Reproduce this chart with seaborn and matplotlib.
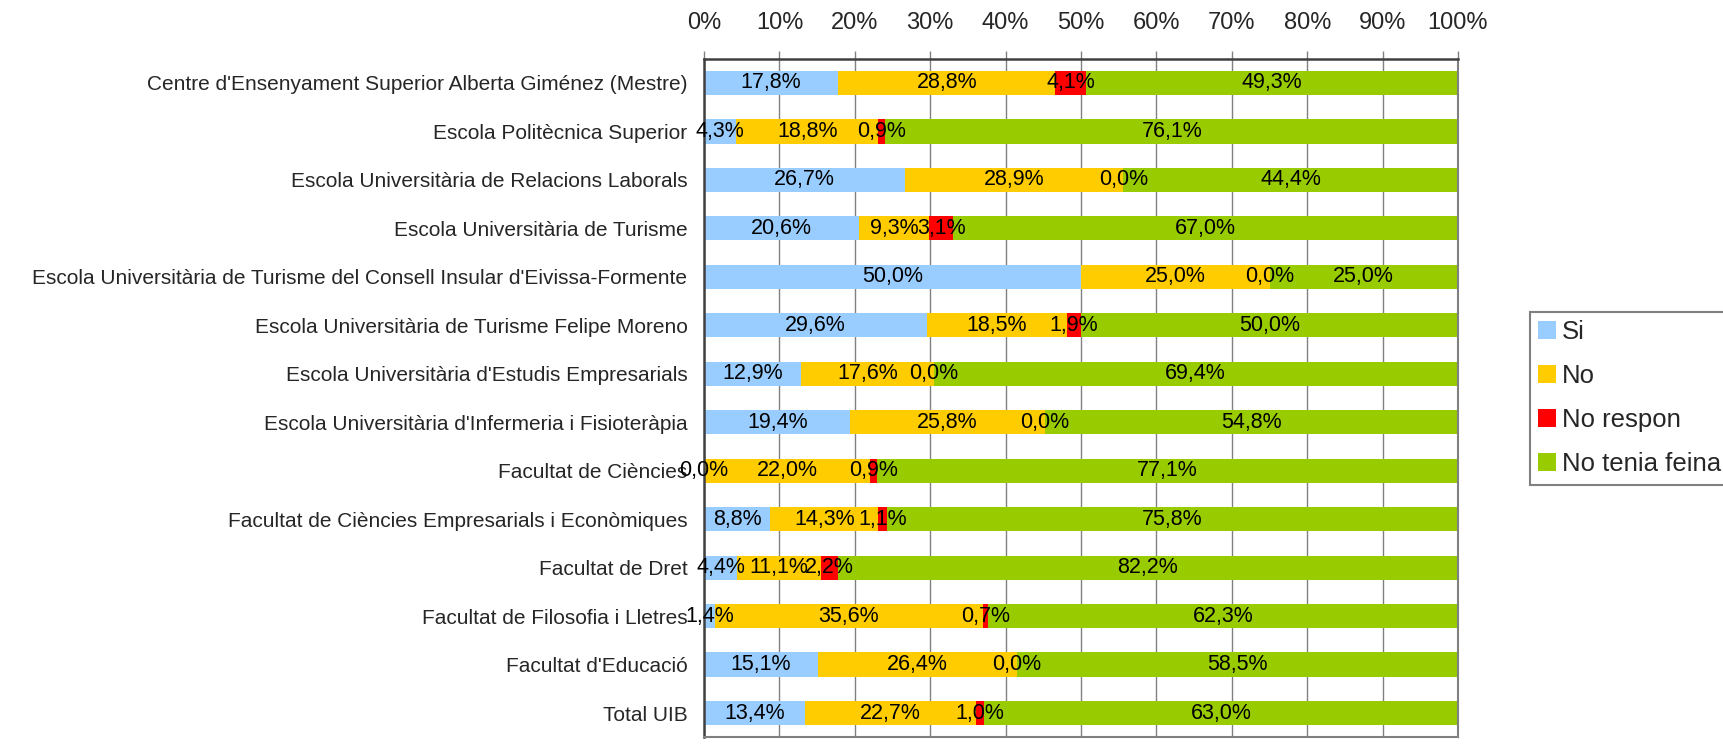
import numpy as np
import pandas as pd
import seaborn as sns
import matplotlib.pyplot as plt
from matplotlib.patches import Patch
from matplotlib.ticker import FixedLocator

# Data
centres = [
    "Centre d'Ensenyament Superior Alberta Giménez (Mestre)",
    "Escola Politècnica Superior",
    "Escola Universitària de Relacions Laborals",
    "Escola Universitària de Turisme",
    "Escola Universitària de Turisme del Consell Insular d'Eivissa-Formente",
    "Escola Universitària de Turisme Felipe Moreno",
    "Escola Universitària d'Estudis Empresarials",
    "Escola Universitària d'Infermeria i Fisioteràpia",
    "Facultat de Ciències",
    "Facultat de Ciències Empresarials i Econòmiques",
    "Facultat de Dret",
    "Facultat de Filosofia i Lletres",
    "Facultat d'Educació",
    "Total UIB",
]
si = [17.8, 4.3, 26.7, 20.6, 50.0, 29.6, 12.9, 19.4, 0.0, 8.8, 4.4, 1.4, 15.1, 13.4]
no = [28.8, 18.8, 28.9, 9.3, 25.0, 18.5, 17.6, 25.8, 22.0, 14.3, 11.1, 35.6, 26.4, 22.7]
no_respon = [4.1, 0.9, 0.0, 3.1, 0.0, 1.9, 0.0, 0.0, 0.9, 1.1, 2.2, 0.7, 0.0, 1.0]
no_feina = [49.3, 76.1, 44.4, 67.0, 25.0, 50.0, 69.4, 54.8, 77.1, 75.8, 82.2, 62.3, 58.5, 63.0]

series = ["Si", "No", "No respon", "No tenia feina"]
colors = ["#99CCFF", "#FFCC00", "#FF0000", "#99CC00"]
xticks = [0, 10, 20, 30, 40, 50, 60, 70, 80, 90, 100]

df = pd.DataFrame({"centre": centres, "Si": si, "No": no,
                   "No respon": no_respon, "No tenia feina": no_feina})
cum = df[series].cumsum(axis=1)
starts = cum - df[series]

sns.set_style("white")
plt.rcParams["font.family"] = ["Liberation Sans", "DejaVu Sans"]

fig = plt.figure(figsize=(17.24, 7.51), dpi=100)
ax = fig.add_axes([0.4084, 0.0183, 0.8457 - 0.4084, 0.9218 - 0.0183])

# stacked bars: draw cumulative totals from back to front
for s, c in reversed(list(zip(series, colors))):
    sns.barplot(x=cum[s], y=df["centre"], color=c, orient="h", width=0.5,
                saturation=1, linewidth=0, ax=ax)

# data labels centred in each segment
for s in series:
    for i in range(len(df)):
        v = df[s].iloc[i]
        ax.text(starts[s].iloc[i] + v / 2, i, f"{v:.1f}%".replace(".", ","),
                ha="center", va="center", fontsize=15.5, color="black")

ax.set_xlim(0, 100)
ax.set_ylim(len(df) - 0.5, -0.5)
ax.set_xlabel("")
ax.set_ylabel("")

ax.xaxis.tick_top()
ax.set_xticks(xticks)
ax.set_xticklabels([f"{t}%" for t in xticks], fontsize=17)
ax.tick_params(axis="x", which="major", direction="out", length=6,
               width=1, color="#808080", pad=12)
ax.grid(axis="x", color="#808080", linewidth=1)
ax.set_axisbelow(True)

ax.tick_params(axis="y", which="major", length=0, pad=12, labelsize=15)
ax.yaxis.set_minor_locator(FixedLocator(np.arange(-0.5, len(df), 1.0)))
ax.tick_params(axis="y", which="minor", direction="out", length=5,
               width=1, color="#404040")

for side in ["left", "top"]:
    ax.spines[side].set_color("#404040")
    ax.spines[side].set_linewidth(1.8)
for side in ["right", "bottom"]:
    ax.spines[side].set_color("#808080")
    ax.spines[side].set_linewidth(1.5)

handles = [Patch(facecolor=c, edgecolor="none", label=s) for s, c in zip(series, colors)]
leg = fig.legend(handles=handles, loc="upper left", bbox_to_anchor=(0.8875, 0.5846),
                 fontsize=18.5, frameon=True, fancybox=False, shadow=False,
                 handlelength=0.68, handleheight=0.68, handletextpad=0.25,
                 labelspacing=0.78, borderpad=0.32, borderaxespad=0)
leg.get_frame().set_edgecolor("#606060")
leg.get_frame().set_linewidth(1.5)

plt.savefig("out.png", dpi=100)
